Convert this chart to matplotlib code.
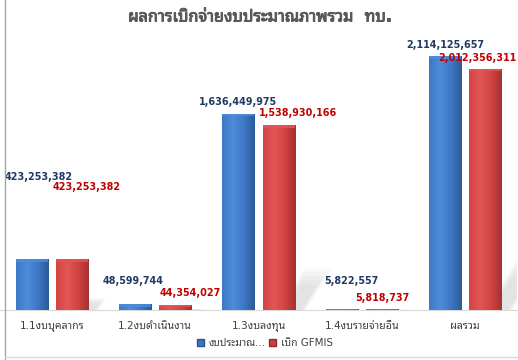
import matplotlib
matplotlib.use("Agg")
import matplotlib.pyplot as plt
import numpy as np
from matplotlib import patheffects
from matplotlib.colors import LinearSegmentedColormap
from matplotlib.lines import Line2D
from matplotlib.patches import Patch, Polygon

plt.rcParams["font.family"] = ["DejaVu Sans", "Noto Sans Thai Looped"]

title = "ผลการเบิกจ่ายงบประมาณภาพรวม  ทบ."
categories = ["1.1งบบุคลากร", "1.2งบดำเนินงาน", "1.3งบลงทุน", "1.4งบรายจ่ายอื่น", "ผลรวม"]
budget = [423253382, 48599744, 1636449975, 5822557, 2114125657]
gfmis = [423253382, 44354027, 1538930166, 5818737, 2012356311]
series_names = ["งบประมาณ...", "เบิก GFMIS"]

# label nudges in pixels (dx, dy above bar top), as Excel placed them
blue_off = [(7, 82), (-2, 23), (0, 12), (10, 28), (0, 11)]
red_off = [(15, 72), (15, 12), (20, 12), (0, 11), (-8, 11)]

W, H = 518, 360
fig = plt.figure(figsize=(W / 100, H / 100), dpi=100)
ax = fig.add_axes([0, 50 / H, 517 / W, 270 / H])

x = np.arange(len(categories))
bw = 0.31
gap = 0.194
ymax = 2.25e9
ax.set_xlim(-0.5, len(categories) - 0.5)
ax.set_ylim(0, ymax)
px_x = len(categories) / 517.0   # data units per pixel
px_y = ymax / 270.0


def shade_bars(bars, dark, mid, light):
    cmap = LinearSegmentedColormap.from_list("g", [mid, light, mid, dark])
    grad = np.linspace(0, 1, 64).reshape(1, -1)
    for b in bars:
        x0, w, h = b.get_x(), b.get_width(), b.get_height()
        im = ax.imshow(grad, cmap=cmap, aspect="auto", extent=(x0, x0 + w, 0, h),
                       zorder=3)
        im.set_clip_path(b)
        cap = 2.5 * px_y
        ax.bar(x0 + w / 2, cap, bottom=h - cap, width=w, color=light,
               alpha=0.8, zorder=4)


def floor_shadow(br):
    # soft diagonal shadow cast up-right from the back bar (3D-style chart)
    w = br.get_width()
    xr = br.get_x() + w
    hs = 0.23 * br.get_height()
    run = hs / px_y / 1.6 * px_x
    for i in range(5):
        sh = 1 - 0.1 * i
        a, b = xr - 0.5 * w * sh, xr + 0.35 * w * sh
        poly = Polygon([(a, 0), (b, 0), (b + run * sh, hs * sh), (a + run * sh, hs * sh)],
                       closed=True, facecolor="#7f7f7f", edgecolor="none", alpha=0.045,
                       zorder=1)
        ax.add_patch(poly)


bars_b = ax.bar(x - gap, budget, width=bw, color="#3d73be", zorder=2,
                edgecolor="#2b5590", linewidth=0.5)
bars_r = ax.bar(x + gap, gfmis, width=bw, color="#c84040", zorder=2,
                edgecolor="#962a2a", linewidth=0.5)
shade_bars(bars_b, "#2c5a98", "#3e78c6", "#4d8ddc")
shade_bars(bars_r, "#a53131", "#d34343", "#e25656")
for br in bars_r:
    floor_shadow(br)

k = 72 / 100
for xi, v, (dx, dy) in zip(x, budget, blue_off):
    ax.annotate(f"{v:,}", (xi - gap, v), xytext=(dx * k, dy * k),
                textcoords="offset points", ha="center", va="center",
                fontsize=6.9, fontweight="bold", color="#1f3864", zorder=6)
for xi, v, (dx, dy) in zip(x, gfmis, red_off):
    ax.annotate(f"{v:,}", (xi + gap, v), xytext=(dx * k, dy * k),
                textcoords="offset points", ha="center", va="center",
                fontsize=6.9, fontweight="bold", color="#c00000", zorder=6)

ax.set_xticks(x)
ax.set_xticklabels(categories, fontsize=7.6, color="#404040")
ax.tick_params(axis="x", length=0, pad=8)
ax.set_yticks([])
for s in ("top", "right", "left"):
    ax.spines[s].set_visible(False)
ax.spines["bottom"].set_color("#d9d9d9")
ax.set_facecolor("none")

fig.text(260 / W, 1 - 17 / H, title, ha="center", va="center", fontsize=11.7,
         fontweight="bold", color="#595959",
         path_effects=[patheffects.withStroke(linewidth=0.7, foreground="#595959")])

handles = [Patch(facecolor="#3d73be", edgecolor="#2b5590"),
           Patch(facecolor="#c84040", edgecolor="#962a2a")]
fig.legend(handles, series_names, loc="center", bbox_to_anchor=(265 / W, 1 - 343 / H),
           ncol=2, frameon=False, fontsize=7.4, handlelength=0.7, handleheight=0.7,
           handletextpad=0.5, columnspacing=0.3, labelcolor="#404040")

# spreadsheet borders around the chart object
fig.add_artist(Line2D([5 / W, 5 / W], [0, 1], color="#a6a6a6", lw=1))
fig.add_artist(Line2D([5 / W, 1], [1 - 357 / H, 1 - 357 / H], color="#d9d9d9", lw=1))

fig.savefig("out.png", dpi=100)
